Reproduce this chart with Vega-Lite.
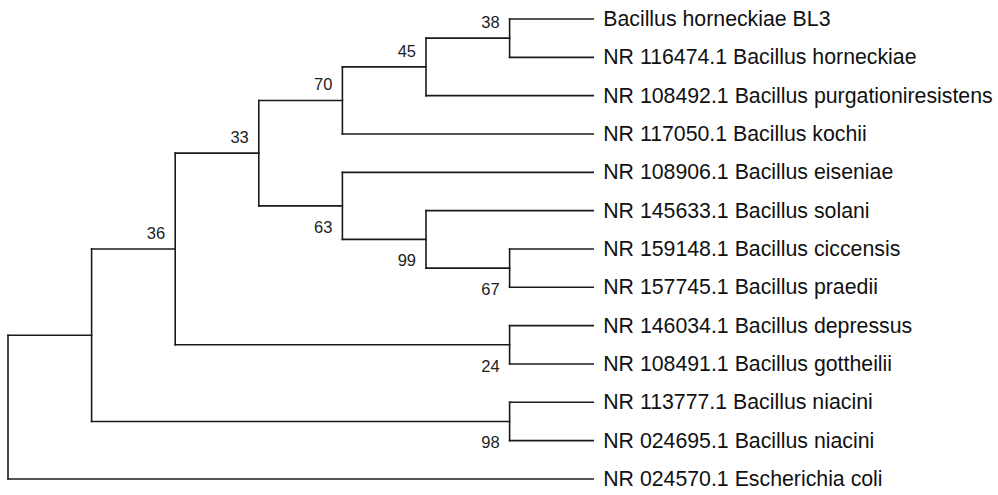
{
  "$schema": "https://vega.github.io/schema/vega-lite/v6.json",
  "width": 998,
  "height": 495,
  "padding": 0,
  "autosize": "none",
  "background": "white",
  "config": {"view": {"stroke": null}},
  "datasets": {
    "edges": [
      {"x": 6, "x2": 7, "y": 0, "y2": 0},
      {"x": 6, "x2": 7, "y": 1, "y2": 1},
      {"x": 5, "x2": 7, "y": 2, "y2": 2},
      {"x": 4, "x2": 7, "y": 3, "y2": 3},
      {"x": 4, "x2": 7, "y": 4, "y2": 4},
      {"x": 5, "x2": 7, "y": 5, "y2": 5},
      {"x": 6, "x2": 7, "y": 6, "y2": 6},
      {"x": 6, "x2": 7, "y": 7, "y2": 7},
      {"x": 6, "x2": 7, "y": 8, "y2": 8},
      {"x": 6, "x2": 7, "y": 9, "y2": 9},
      {"x": 6, "x2": 7, "y": 10, "y2": 10},
      {"x": 6, "x2": 7, "y": 11, "y2": 11},
      {"x": 0, "x2": 7, "y": 12, "y2": 12},
      {"x": 5, "x2": 6, "y": 0.5, "y2": 0.5},
      {"x": 4, "x2": 5, "y": 1.25, "y2": 1.25},
      {"x": 3, "x2": 4, "y": 2.125, "y2": 2.125},
      {"x": 3, "x2": 4, "y": 4.875, "y2": 4.875},
      {"x": 4, "x2": 5, "y": 5.75, "y2": 5.75},
      {"x": 5, "x2": 6, "y": 6.5, "y2": 6.5},
      {"x": 2, "x2": 3, "y": 3.5, "y2": 3.5},
      {"x": 2, "x2": 6, "y": 8.5, "y2": 8.5},
      {"x": 1, "x2": 2, "y": 6, "y2": 6},
      {"x": 1, "x2": 6, "y": 10.5, "y2": 10.5},
      {"x": 0, "x2": 1, "y": 8.25, "y2": 8.25},
      {"x": 6, "x2": 6, "y": 0, "y2": 1},
      {"x": 5, "x2": 5, "y": 0.5, "y2": 2},
      {"x": 4, "x2": 4, "y": 1.25, "y2": 3},
      {"x": 4, "x2": 4, "y": 4, "y2": 5.75},
      {"x": 5, "x2": 5, "y": 5, "y2": 6.5},
      {"x": 6, "x2": 6, "y": 6, "y2": 7},
      {"x": 3, "x2": 3, "y": 2.125, "y2": 4.875},
      {"x": 6, "x2": 6, "y": 8, "y2": 9},
      {"x": 2, "x2": 2, "y": 3.5, "y2": 8.5},
      {"x": 6, "x2": 6, "y": 10, "y2": 11},
      {"x": 1, "x2": 1, "y": 6, "y2": 10.5},
      {"x": 0, "x2": 0, "y": 8.25, "y2": 12}
    ],
    "leaves": [
      {"x": 7, "y": 0, "name": "Bacillus horneckiae BL3"},
      {"x": 7, "y": 1, "name": "NR 116474.1 Bacillus horneckiae"},
      {"x": 7, "y": 2, "name": "NR 108492.1 Bacillus purgationiresistens"},
      {"x": 7, "y": 3, "name": "NR 117050.1 Bacillus kochii"},
      {"x": 7, "y": 4, "name": "NR 108906.1 Bacillus eiseniae"},
      {"x": 7, "y": 5, "name": "NR 145633.1 Bacillus solani"},
      {"x": 7, "y": 6, "name": "NR 159148.1 Bacillus ciccensis"},
      {"x": 7, "y": 7, "name": "NR 157745.1 Bacillus praedii"},
      {"x": 7, "y": 8, "name": "NR 146034.1 Bacillus depressus"},
      {"x": 7, "y": 9, "name": "NR 108491.1 Bacillus gottheilii"},
      {"x": 7, "y": 10, "name": "NR 113777.1 Bacillus niacini"},
      {"x": 7, "y": 11, "name": "NR 024695.1 Bacillus niacini"},
      {"x": 7, "y": 12, "name": "NR 024570.1 Escherichia coli"}
    ],
    "nodes": [
      {"x": 6, "y": 0.5, "support": "38", "child": "upper"},
      {"x": 5, "y": 1.25, "support": "45", "child": "upper"},
      {"x": 4, "y": 2.125, "support": "70", "child": "upper"},
      {"x": 3, "y": 3.5, "support": "33", "child": "upper"},
      {"x": 2, "y": 6, "support": "36", "child": "upper"},
      {"x": 4, "y": 4.875, "support": "63", "child": "lower"},
      {"x": 5, "y": 5.75, "support": "99", "child": "lower"},
      {"x": 6, "y": 6.5, "support": "67", "child": "lower"},
      {"x": 6, "y": 8.5, "support": "24", "child": "lower"},
      {"x": 6, "y": 10.5, "support": "98", "child": "lower"}
    ]
  },
  "layer": [
    {
      "data": {"name": "edges"},
      "mark": {"type": "rule", "color": "#1a1a1a", "strokeWidth": 1.6, "strokeCap": "square"},
      "encoding": {
        "x": {"field": "x", "type": "quantitative", "scale": {"domain": [-0.0957, 11.842], "nice": false, "zero": false}, "axis": null},
        "x2": {"field": "x2"},
        "y": {"field": "y", "type": "quantitative", "scale": {"domain": [-0.4957, 12.418], "nice": false, "zero": false, "reverse": true}, "axis": null},
        "y2": {"field": "y2"}
      }
    },
    {
      "data": {"name": "leaves"},
      "mark": {"type": "text", "align": "left", "baseline": "middle", "dx": 10, "dy": 1, "font": "Liberation Sans, Arial, sans-serif", "fontSize": 21.3, "color": "#111111"},
      "encoding": {
        "x": {"field": "x", "type": "quantitative"},
        "y": {"field": "y", "type": "quantitative"},
        "text": {"field": "name"}
      }
    },
    {
      "data": {"name": "nodes"},
      "transform": [{"filter": "datum.child == 'upper'"}],
      "mark": {"type": "text", "align": "right", "baseline": "alphabetic", "dx": -10, "dy": -10, "font": "Liberation Sans, Arial, sans-serif", "fontSize": 16.5, "color": "#222222"},
      "encoding": {
        "x": {"field": "x", "type": "quantitative"},
        "y": {"field": "y", "type": "quantitative"},
        "text": {"field": "support"}
      }
    },
    {
      "data": {"name": "nodes"},
      "transform": [{"filter": "datum.child == 'lower'"}],
      "mark": {"type": "text", "align": "right", "baseline": "alphabetic", "dx": -10, "dy": 27, "font": "Liberation Sans, Arial, sans-serif", "fontSize": 16.5, "color": "#222222"},
      "encoding": {
        "x": {"field": "x", "type": "quantitative"},
        "y": {"field": "y", "type": "quantitative"},
        "text": {"field": "support"}
      }
    }
  ]
}
